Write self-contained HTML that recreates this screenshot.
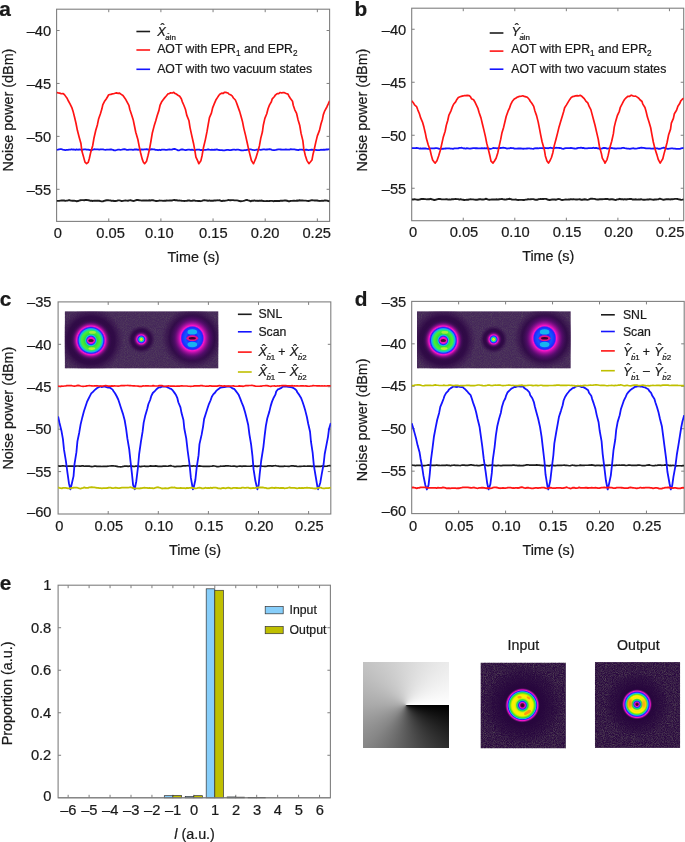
<!DOCTYPE html>
<html lang="en"><head><meta charset="utf-8"><title>Figure: AOT noise power and OAM proportion</title>
<style>html,body{margin:0;padding:0;background:#fff}svg{display:block}.fig{position:relative;width:685px;height:842px;overflow:hidden}.phase{position:absolute;background:conic-gradient(from 90deg at 50% 50%,#000 0,#2d2d2d 12.5%,#5a5a5a 25%,#878787 37.5%,#aaa 50%,#c3c3c3 62.5%,#d7d7d7 75%,#ebebeb 87.5%,#fff 100%)}text{font-family:"Liberation Sans", Arial, Helvetica, sans-serif;fill:#1a1a1a;stroke:#1a1a1a;stroke-width:0.22px}</style>
</head><body><div class="fig">
<svg width="685" height="842" viewBox="0 0 685 842">
<rect width="685" height="842" fill="#fff"/>
<defs>
<filter id="grain" x="0" y="0" width="100%" height="100%" color-interpolation-filters="sRGB"><feTurbulence type="fractalNoise" baseFrequency="1.1" numOctaves="1" seed="7" result="n"/><feColorMatrix in="n" type="matrix" values="0 0 0 0 0.42  0 0 0 0 0.42  0 0 0 0 0.38  1.3 1.3 0 0 -1.05"/></filter>
<filter id="b1"><feGaussianBlur stdDeviation="0.6"/></filter>
<filter id="b2"><feGaussianBlur stdDeviation="1.1"/></filter>
<radialGradient id="gRing1"><stop offset="0" stop-color="#ff14c8"/><stop offset="0.14" stop-color="#ff14c8"/><stop offset="0.2" stop-color="#2424ff"/><stop offset="0.25" stop-color="#12c4e4"/><stop offset="0.3" stop-color="#2cdc3c"/><stop offset="0.44" stop-color="#4cec34"/><stop offset="0.5" stop-color="#1ee088"/><stop offset="0.56" stop-color="#12a8f8"/><stop offset="0.61" stop-color="#2424ff"/><stop offset="0.68" stop-color="#ff14c8"/><stop offset="0.76" stop-color="#a4109c" stop-opacity="0.85"/><stop offset="0.88" stop-color="#54106c" stop-opacity="0.45"/><stop offset="1" stop-color="#3a0a55" stop-opacity="0"/></radialGradient>
<radialGradient id="gSpot"><stop offset="0" stop-color="#f4d418"/><stop offset="0.11" stop-color="#d8f020"/><stop offset="0.2" stop-color="#50e43c"/><stop offset="0.28" stop-color="#12c4e4"/><stop offset="0.4" stop-color="#2424ff"/><stop offset="0.53" stop-color="#ff14c8"/><stop offset="0.71" stop-color="#84108c" stop-opacity="0.75"/><stop offset="1" stop-color="#3a0a55" stop-opacity="0"/></radialGradient>
<radialGradient id="gRing3"><stop offset="0" stop-color="#2424ff"/><stop offset="0.2" stop-color="#2424ff"/><stop offset="0.3" stop-color="#1458ff"/><stop offset="0.4" stop-color="#1440ff"/><stop offset="0.46" stop-color="#2424ff"/><stop offset="0.52" stop-color="#ff14c8"/><stop offset="0.6" stop-color="#c412b4" stop-opacity="0.9"/><stop offset="0.78" stop-color="#74108c" stop-opacity="0.5"/><stop offset="1" stop-color="#4a1568" stop-opacity="0"/></radialGradient>
<radialGradient id="gHalo"><stop offset="0" stop-color="#2a053f"/><stop offset="0.72" stop-color="#2e0845" stop-opacity="0.92"/><stop offset="1" stop-color="#3a1050" stop-opacity="0"/></radialGradient>
<radialGradient id="gIn"><stop offset="0" stop-color="#30042a"/><stop offset="0.09" stop-color="#54063a"/><stop offset="0.16" stop-color="#ff14c8"/><stop offset="0.22" stop-color="#2424ff"/><stop offset="0.27" stop-color="#12c0b0"/><stop offset="0.32" stop-color="#2cdc3c"/><stop offset="0.39" stop-color="#d0f010"/><stop offset="0.47" stop-color="#fff200"/><stop offset="0.6" stop-color="#f4f000"/><stop offset="0.67" stop-color="#84e810"/><stop offset="0.72" stop-color="#2cdc3c"/><stop offset="0.77" stop-color="#12c4e4"/><stop offset="0.81" stop-color="#2424ff"/><stop offset="0.87" stop-color="#ff14c8"/><stop offset="0.93" stop-color="#84108c" stop-opacity="0.8"/><stop offset="1" stop-color="#2a0640" stop-opacity="0"/></radialGradient>
<radialGradient id="gOut"><stop offset="0" stop-color="#30042a"/><stop offset="0.08" stop-color="#60063a"/><stop offset="0.14" stop-color="#ff14c8"/><stop offset="0.2" stop-color="#2424ff"/><stop offset="0.26" stop-color="#12c0b0"/><stop offset="0.32" stop-color="#2cdc3c"/><stop offset="0.39" stop-color="#f0f010"/><stop offset="0.48" stop-color="#ffe408"/><stop offset="0.56" stop-color="#fff000"/><stop offset="0.65" stop-color="#50e420"/><stop offset="0.71" stop-color="#12c4e4"/><stop offset="0.78" stop-color="#2424ff"/><stop offset="0.86" stop-color="#ff14c8"/><stop offset="0.92" stop-color="#84108c" stop-opacity="0.8"/><stop offset="1" stop-color="#2a0640" stop-opacity="0"/></radialGradient>
<radialGradient id="gVig"><stop offset="0" stop-color="#27063d"/><stop offset="0.5" stop-color="#27063d" stop-opacity="0.97"/><stop offset="0.8" stop-color="#27063d" stop-opacity="0.5"/><stop offset="1" stop-color="#27063d" stop-opacity="0"/></radialGradient>
</defs>
<rect x="56.6" y="9.2" width="273" height="212.2" fill="#fff" stroke="#7f7f7f" stroke-width="1.1"/>
<path d="M108.75 221.4 v-3 M108.75 9.2 v3 M160.9 221.4 v-3 M160.9 9.2 v3 M213.05 221.4 v-3 M213.05 9.2 v3 M265.2 221.4 v-3 M265.2 9.2 v3 M317.35 221.4 v-3 M317.35 9.2 v3 " stroke="#7f7f7f" stroke-width="1" fill="none"/>
<path d="M56.6 30.5 h3 M329.6 30.5 h-3 M56.6 83.44 h3 M329.6 83.44 h-3 M56.6 136.37 h3 M329.6 136.37 h-3 M56.6 189.31 h3 M329.6 189.31 h-3 " stroke="#7f7f7f" stroke-width="1" fill="none"/>
<svg x="56.6" y="9.2" width="273" height="212.2" viewBox="56.6 9.2 273 212.2" overflow="hidden">
<path d="M56.6 200.89 L57.85 200.9 L59.1 200.87 L60.36 200.67 L61.61 200.5 L62.86 200.51 L64.11 200.53 L65.37 200.89 L66.62 200.64 L67.87 200.45 L69.12 200.04 L70.38 200.46 L71.63 200.69 L72.88 200.66 L74.13 200.76 L75.38 200.92 L76.64 201.28 L77.89 201.06 L79.14 200.59 L80.39 200.22 L81.65 200.16 L82.9 200.11 L84.15 200.21 L85.4 200.04 L86.66 200.02 L87.91 200.18 L89.16 200.3 L90.41 200.78 L91.66 200.81 L92.92 200.93 L94.17 200.73 L95.42 200.81 L96.67 200.7 L97.93 200.57 L99.18 200.77 L100.43 201.09 L101.68 201.42 L102.93 201.25 L104.19 200.85 L105.44 200.49 L106.69 200.24 L107.94 200.1 L109.2 200.41 L110.45 200.48 L111.7 200.93 L112.95 200.71 L114.21 201.04 L115.46 201.04 L116.71 200.81 L117.96 200.37 L119.21 200.41 L120.47 200.69 L121.72 201.14 L122.97 200.84 L124.22 200.6 L125.48 200.4 L126.73 200.62 L127.98 200.74 L129.23 200.42 L130.49 200.16 L131.74 200.56 L132.99 200.96 L134.24 200.83 L135.49 200.41 L136.75 200.03 L138 199.99 L139.25 200.32 L140.5 200.36 L141.76 200.65 L143.01 200.45 L144.26 200.46 L145.51 200.56 L146.77 200.37 L148.02 200.64 L149.27 200.28 L150.52 200.45 L151.77 200.19 L153.03 200.28 L154.28 200.61 L155.53 200.95 L156.78 200.97 L158.04 200.92 L159.29 200.57 L160.54 200.63 L161.79 200.61 L163.04 200.86 L164.3 200.69 L165.55 200.77 L166.8 200.52 L168.05 200.61 L169.31 200.48 L170.56 200.55 L171.81 200.57 L173.06 200.16 L174.32 200.02 L175.57 200.19 L176.82 200.29 L178.07 200.59 L179.32 200.47 L180.58 200.59 L181.83 200.8 L183.08 200.87 L184.33 200.94 L185.59 200.88 L186.84 200.71 L188.09 200.46 L189.34 200.48 L190.6 200.86 L191.85 200.91 L193.1 200.49 L194.35 200.44 L195.6 200.85 L196.86 200.85 L198.11 200.98 L199.36 200.94 L200.61 201.18 L201.87 200.87 L203.12 200.42 L204.37 200.08 L205.62 200.4 L206.88 200.48 L208.13 200.87 L209.38 200.46 L210.63 200.8 L211.88 200.74 L213.14 200.76 L214.39 200.38 L215.64 200.45 L216.89 200.32 L218.15 200.35 L219.4 200.26 L220.65 200.72 L221.9 200.94 L223.16 200.78 L224.41 200.82 L225.66 200.58 L226.91 200.42 L228.16 200.04 L229.42 200.18 L230.67 200.21 L231.92 200.15 L233.17 200.11 L234.43 200.41 L235.68 200.38 L236.93 200.38 L238.18 200.57 L239.43 201.06 L240.69 201.24 L241.94 201.12 L243.19 200.89 L244.44 200.58 L245.7 200.2 L246.95 199.87 L248.2 200.32 L249.45 200.71 L250.71 201.26 L251.96 200.74 L253.21 200.7 L254.46 200.42 L255.71 200.84 L256.97 200.65 L258.22 200.96 L259.47 200.57 L260.72 200.7 L261.98 200.55 L263.23 201.03 L264.48 201.15 L265.73 201.13 L266.99 201.06 L268.24 201.17 L269.49 200.96 L270.74 200.9 L271.99 200.89 L273.25 201.19 L274.5 201.04 L275.75 200.97 L277 200.97 L278.26 201.06 L279.51 200.96 L280.76 200.68 L282.01 200.69 L283.27 200.68 L284.52 200.5 L285.77 200.53 L287.02 200.76 L288.27 201.23 L289.53 201.28 L290.78 200.92 L292.03 200.84 L293.28 200.75 L294.54 200.78 L295.79 200.84 L297.04 200.55 L298.29 200.73 L299.54 200.26 L300.8 200.56 L302.05 200.41 L303.3 200.52 L304.55 200.58 L305.81 200.59 L307.06 200.82 L308.31 200.95 L309.56 200.8 L310.82 200.45 L312.07 200.09 L313.32 200.33 L314.57 200.45 L315.82 200.37 L317.08 200.5 L318.33 200.77 L319.58 200.93 L320.83 200.92 L322.09 200.73 L323.34 200.86 L324.59 200.45 L325.84 200.51 L327.1 200.6 L328.35 201.02 L329.6 201.28" fill="none" stroke="#1c1c1c" stroke-width="1.9" stroke-linejoin="round"/>
<path d="M56.6 149.88 L57.85 149.69 L59.1 149.31 L60.36 149.14 L61.61 149.22 L62.86 149.69 L64.11 149.87 L65.37 150.06 L66.62 149.92 L67.87 149.9 L69.12 149.63 L70.38 149.56 L71.63 149.27 L72.88 149.71 L74.13 149.49 L75.38 149.88 L76.64 149.39 L77.89 149.76 L79.14 149.47 L80.39 149.67 L81.65 149.76 L82.9 149.57 L84.15 149.37 L85.4 149.41 L86.66 149.7 L87.91 149.72 L89.16 149.76 L90.41 150.02 L91.66 150.03 L92.92 149.7 L94.17 149.22 L95.42 149.34 L96.67 149.46 L97.93 149.47 L99.18 149.7 L100.43 149.36 L101.68 149.37 L102.93 149.44 L104.19 149.64 L105.44 149.79 L106.69 149.66 L107.94 149.7 L109.2 149.68 L110.45 149.35 L111.7 149.5 L112.95 149.84 L114.21 150.4 L115.46 150.36 L116.71 150 L117.96 149.64 L119.21 149.66 L120.47 149.84 L121.72 149.7 L122.97 149.43 L124.22 149.25 L125.48 149.48 L126.73 149.82 L127.98 149.9 L129.23 149.61 L130.49 149.62 L131.74 149.58 L132.99 149.87 L134.24 149.52 L135.49 149.52 L136.75 149.44 L138 149.76 L139.25 149.57 L140.5 149.67 L141.76 149.32 L143.01 149.66 L144.26 149.36 L145.51 149.42 L146.77 149.22 L148.02 149.57 L149.27 149.44 L150.52 149.5 L151.77 149.25 L153.03 149.39 L154.28 149.4 L155.53 149.84 L156.78 149.95 L158.04 150.24 L159.29 149.77 L160.54 150.03 L161.79 149.68 L163.04 149.7 L164.3 149.59 L165.55 149.91 L166.8 149.81 L168.05 149.53 L169.31 149.44 L170.56 149.64 L171.81 149.62 L173.06 149.18 L174.32 149 L175.57 149.22 L176.82 149.79 L178.07 150.36 L179.32 150.29 L180.58 149.72 L181.83 149.33 L183.08 149.49 L184.33 149.97 L185.59 150.15 L186.84 149.83 L188.09 149.65 L189.34 149.55 L190.6 149.79 L191.85 149.63 L193.1 149.91 L194.35 150.06 L195.6 150 L196.86 149.62 L198.11 149.61 L199.36 149.68 L200.61 150.06 L201.87 149.85 L203.12 150.09 L204.37 149.95 L205.62 149.78 L206.88 149.54 L208.13 149.27 L209.38 149.55 L210.63 149.79 L211.88 149.71 L213.14 149.83 L214.39 149.67 L215.64 149.74 L216.89 149.47 L218.15 149.8 L219.4 149.99 L220.65 150.1 L221.9 150.06 L223.16 150.3 L224.41 150.38 L225.66 150.09 L226.91 149.87 L228.16 149.95 L229.42 150.17 L230.67 150.16 L231.92 149.84 L233.17 149.59 L234.43 149.68 L235.68 149.81 L236.93 149.6 L238.18 149.59 L239.43 149.79 L240.69 150.24 L241.94 150.35 L243.19 150.36 L244.44 150.2 L245.7 150.14 L246.95 149.83 L248.2 149.57 L249.45 149.32 L250.71 149.28 L251.96 149.77 L253.21 149.96 L254.46 150.1 L255.71 149.92 L256.97 149.59 L258.22 149.58 L259.47 149.63 L260.72 149.79 L261.98 149.62 L263.23 149.44 L264.48 149.4 L265.73 149.66 L266.99 149.5 L268.24 149.37 L269.49 149.15 L270.74 149.47 L271.99 149.87 L273.25 150.07 L274.5 150.21 L275.75 149.98 L277 149.61 L278.26 149.35 L279.51 149.39 L280.76 149.48 L282.01 149.59 L283.27 149.53 L284.52 149.56 L285.77 149.36 L287.02 149.72 L288.27 149.58 L289.53 149.6 L290.78 149.21 L292.03 149.32 L293.28 149.37 L294.54 149.33 L295.79 149.75 L297.04 149.79 L298.29 150.07 L299.54 149.63 L300.8 149.61 L302.05 149.55 L303.3 149.95 L304.55 149.83 L305.81 149.74 L307.06 149.75 L308.31 150.09 L309.56 149.95 L310.82 149.77 L312.07 149.73 L313.32 149.82 L314.57 149.9 L315.82 149.85 L317.08 150.18 L318.33 150.11 L319.58 150.12 L320.83 149.76 L322.09 149.86 L323.34 149.65 L324.59 149.74 L325.84 149.52 L327.1 149.51 L328.35 149.3 L329.6 149.22" fill="none" stroke="#1414ff" stroke-width="1.8" stroke-linejoin="round"/>
<path d="M56.6 92.53 L58.23 92.89 L59.7 93.17 L61.26 93.74 L62.92 93.6 L64.3 94.44 L65.33 95.88 L66.88 97.97 L68.56 101.27 L70.01 103.85 L71.97 107.9 L73.28 112.11 L74.57 117.21 L75.98 123.26 L77.38 130.33 L79.18 137.2 L80.94 143.56 L81.83 150.73 L83.56 156.86 L84.98 162.12 L86.6 163.67 L88.19 162.39 L89.4 158.24 L90.75 152.14 L92.74 145.48 L93.95 138.24 L95.72 130.55 L97.43 124.7 L98.67 118.67 L100.43 113.72 L101.84 109.09 L102.75 104.97 L104.4 101.59 L106.23 98.98 L107.58 96.72 L108.7 94.76 L110.86 94.43 L112.22 93.92 L113.55 93.72 L115.12 93.24 L116.34 92.93 L118.14 93.32 L119.31 93.06 L121.23 94.36 L122.95 95.55 L123.87 96.82 L125.41 98.97 L127.16 102.21 L128.9 105.38 L129.84 109.56 L131.51 114.54 L133.18 119.69 L134.33 125.28 L135.76 132.28 L137.8 139.18 L139.2 146.29 L140.66 153.04 L142.14 158.88 L143.28 162.02 L144.6 163.67 L146.58 161.16 L148.09 155.28 L149.61 148.69 L150.83 141.74 L152.25 133.3 L154.11 126.11 L155.76 120.75 L157.23 115.49 L158.95 110.36 L160 105.45 L161.51 102.07 L162.96 99.93 L164.6 97.87 L166.24 96.02 L167.89 93.92 L168.77 93.7 L170.66 92.9 L172.31 92.99 L173.8 92.39 L175.04 93.54 L176.26 94.08 L177.96 95.21 L179.68 96.23 L181.32 98.81 L182.37 101.86 L183.96 105.48 L185.49 109.55 L186.74 115.13 L188.98 120.78 L189.98 127.35 L191.55 134.64 L193.48 143.19 L194.83 150.43 L195.92 157.08 L197.95 161.44 L198.8 163.67 L200.86 160.83 L202.15 155.2 L203.55 147.22 L205.38 139.62 L206.94 131.88 L208.24 124.27 L209.46 117.54 L211.4 113.16 L212.73 107.57 L214.44 103.34 L215.85 100.05 L217.25 97.83 L218.92 95.26 L220.05 94.12 L221.69 93.22 L223.3 93.31 L224.55 92.24 L225.8 92.34 L227.86 92.96 L229.13 94.23 L230.56 94.78 L232.13 95.91 L233.43 98.03 L235.37 100.02 L236.43 102.48 L237.9 106.6 L239.7 111.63 L241.09 116.53 L242.45 121.45 L243.77 128.12 L245.55 135.42 L247.03 141.95 L248.64 149.35 L250.22 155.72 L251.42 160.43 L253.5 163.67 L254.25 162 L255.75 158.45 L257.64 152.27 L259.45 145.66 L260.79 138.1 L262.44 131.75 L263.32 125.21 L264.87 118.33 L266.77 113.78 L268.03 108.71 L269.54 104.89 L271.37 101.8 L272.27 98.83 L274.45 96.51 L275.35 95.05 L277.17 93.54 L278.72 93.62 L280.15 92.53 L281.77 93.02 L282.94 92.56 L284.38 92.69 L286.23 93.49 L287.96 94.14 L288.75 95.7 L290.28 98.22 L292.49 101.2 L293.24 105.27 L294.8 109.77 L296.6 113.46 L297.96 119.39 L299.76 125.52 L301.07 133.39 L302.84 140.67 L303.79 148.91 L305.38 155.73 L306.85 160.34 L308.9 163.67 L310.34 162.01 L312 159.91 L313 154.43 L314.38 148.69 L315.76 142.35 L317.35 135.89 L319.49 130.35 L320.96 124.03 L322.44 119.21 L323.34 114.65 L324.76 110.81 L326.99 106.72 L328.28 103.92 L329.6 100.78" fill="none" stroke="#ff1414" stroke-width="1.7" stroke-linejoin="round"/>
</svg>
<text x="51.2" y="35.7" font-size="14.7" text-anchor="end" >–40</text>
<text x="51.2" y="88.64" font-size="14.7" text-anchor="end" >–45</text>
<text x="51.2" y="141.57" font-size="14.7" text-anchor="end" >–50</text>
<text x="51.2" y="194.5" font-size="14.7" text-anchor="end" >–55</text>
<text x="110.6" y="238.2" font-size="14.7" text-anchor="middle" >0.05</text>
<text x="159.3" y="238.2" font-size="14.7" text-anchor="middle" >0.10</text>
<text x="213.3" y="238.2" font-size="14.7" text-anchor="middle" >0.15</text>
<text x="265.1" y="238.2" font-size="14.7" text-anchor="middle" >0.20</text>
<text x="316.7" y="238.2" font-size="14.7" text-anchor="middle" >0.25</text>
<text x="57.9" y="238.2" font-size="14.7" text-anchor="middle" >0</text>
<text x="193.6" y="261.6" font-size="14.35" text-anchor="middle" >Time (s)</text>
<text transform="translate(12.5 110) rotate(-90)" font-size="14.35" text-anchor="middle">Noise power (dBm)</text>
<text x="-0.7" y="15.8" font-size="20.8" text-anchor="start" font-weight="bold" fill="#000" stroke="none">a</text>
<path d="M136.4 31.5 h13.7" stroke="#1c1c1c" stroke-width="1.6"/>
<path d="M136.4 50 h13.7" stroke="#ff1414" stroke-width="1.6"/>
<path d="M136.4 69.3 h13.7" stroke="#1414ff" stroke-width="1.6"/>
<text x="157.3" y="35.8" font-size="12.75" font-style="italic">X</text>
<text x="162.57" y="33.12" font-size="12.112499999999999" text-anchor="middle">ˆ</text>
<text x="165.3" y="39.62" font-size="7.91"><tspan font-style="italic">a</tspan>in</text>
<text x="168.47" y="37.57" font-size="6.72" text-anchor="middle">ˆ</text>
<text x="157.2" y="53" font-size="12.25">AOT with EPR<tspan font-size="8.2" dy="3.3">1</tspan><tspan dy="-3.3"> and EPR</tspan><tspan font-size="8.2" dy="3.3">2</tspan></text>
<text x="157.2" y="73.3" font-size="12.25" text-anchor="start" >AOT with two vacuum states</text>
<rect x="411.7" y="8.2" width="272" height="212.5" fill="#fff" stroke="#7f7f7f" stroke-width="1.1"/>
<path d="M463.25 220.7 v-3 M463.25 8.2 v3 M514.8 220.7 v-3 M514.8 8.2 v3 M566.35 220.7 v-3 M566.35 8.2 v3 M617.9 220.7 v-3 M617.9 8.2 v3 M669.45 220.7 v-3 M669.45 8.2 v3 " stroke="#7f7f7f" stroke-width="1" fill="none"/>
<path d="M411.7 29.25 h3 M683.7 29.25 h-3 M411.7 82.25 h3 M683.7 82.25 h-3 M411.7 135.25 h3 M683.7 135.25 h-3 M411.7 188.25 h3 M683.7 188.25 h-3 " stroke="#7f7f7f" stroke-width="1" fill="none"/>
<svg x="411.7" y="8.2" width="272" height="212.5" viewBox="411.7 8.2 272 212.5" overflow="hidden">
<path d="M411.7 199.37 L412.95 199.56 L414.21 199.28 L415.46 199.37 L416.71 199.57 L417.97 199.74 L419.22 199.57 L420.47 199.24 L421.73 198.94 L422.98 198.86 L424.23 199.06 L425.49 199.1 L426.74 199.35 L427.99 199.14 L429.25 199.24 L430.5 198.8 L431.76 199.25 L433.01 199.54 L434.26 200.03 L435.52 199.81 L436.77 199.39 L438.02 199.07 L439.28 199 L440.53 199.05 L441.78 199.42 L443.04 199.34 L444.29 199.37 L445.54 199.29 L446.8 199.14 L448.05 199.6 L449.3 199.38 L450.56 199.63 L451.81 199.29 L453.06 199.31 L454.32 199.1 L455.57 198.92 L456.82 199.14 L458.08 199.17 L459.33 199.6 L460.58 199.22 L461.84 199.65 L463.09 199.72 L464.35 200.04 L465.6 199.91 L466.85 199.73 L468.11 199.72 L469.36 199.34 L470.61 199.28 L471.87 199.34 L473.12 199.38 L474.37 199.64 L475.63 199.68 L476.88 199.8 L478.13 199.48 L479.39 199.22 L480.64 199.21 L481.89 199.57 L483.15 199.54 L484.4 199.33 L485.65 198.8 L486.91 198.99 L488.16 199.56 L489.41 199.79 L490.67 199.66 L491.92 199.4 L493.17 199.55 L494.43 199.39 L495.68 199.43 L496.94 199.31 L498.19 199.55 L499.44 199.3 L500.7 199.07 L501.95 198.91 L503.2 199.35 L504.46 199.45 L505.71 199.6 L506.96 199.23 L508.22 199.09 L509.47 198.78 L510.72 199.08 L511.98 199.47 L513.23 199.65 L514.48 199.58 L515.74 199.52 L516.99 199.82 L518.24 199.99 L519.5 199.83 L520.75 199.88 L522 199.88 L523.26 199.99 L524.51 199.93 L525.76 199.65 L527.02 199.53 L528.27 199.15 L529.52 199.38 L530.78 199.25 L532.03 199.15 L533.29 199.11 L534.54 199.47 L535.79 199.71 L537.05 199.73 L538.3 199.31 L539.55 199.17 L540.81 198.85 L542.06 199.07 L543.31 199.02 L544.57 198.89 L545.82 198.84 L547.07 199.27 L548.33 199.8 L549.58 200.04 L550.83 199.8 L552.09 199.37 L553.34 199.49 L554.59 199.52 L555.85 199.8 L557.1 199.25 L558.35 199.07 L559.61 199.13 L560.86 199.58 L562.11 199.98 L563.37 199.84 L564.62 199.62 L565.88 199.44 L567.13 199.59 L568.38 199.52 L569.64 199.49 L570.89 199.16 L572.14 199.43 L573.4 199.12 L574.65 199.36 L575.9 199.47 L577.16 199.48 L578.41 199.42 L579.66 199.24 L580.92 199.73 L582.17 199.72 L583.42 199.49 L584.68 199.23 L585.93 199.45 L587.18 199.83 L588.44 199.67 L589.69 199.17 L590.94 198.69 L592.2 198.63 L593.45 198.83 L594.7 198.86 L595.96 199.35 L597.21 199.48 L598.46 199.47 L599.72 199.27 L600.97 199.08 L602.23 199.3 L603.48 199.11 L604.73 199.02 L605.99 198.83 L607.24 198.93 L608.49 199.25 L609.75 199.46 L611 199.27 L612.25 199.27 L613.51 199.46 L614.76 199.88 L616.01 199.93 L617.27 199.42 L618.52 199.24 L619.77 198.81 L621.03 199.26 L622.28 199.09 L623.53 199.47 L624.79 199.17 L626.04 199.47 L627.29 199.24 L628.55 199.12 L629.8 198.94 L631.05 198.93 L632.31 199.44 L633.56 199.38 L634.82 199.5 L636.07 199.29 L637.32 199.67 L638.58 199.44 L639.83 199.47 L641.08 199.21 L642.34 199.58 L643.59 199.8 L644.84 199.68 L646.1 199.66 L647.35 199.4 L648.6 199.55 L649.86 199.17 L651.11 199.34 L652.36 199.59 L653.62 199.76 L654.87 199.47 L656.12 199.48 L657.38 199.33 L658.63 199.19 L659.88 198.65 L661.14 199.07 L662.39 199.47 L663.64 199.69 L664.9 199.57 L666.15 199.14 L667.41 199.25 L668.66 199.15 L669.91 199.44 L671.17 199.29 L672.42 199.27 L673.67 199.1 L674.93 198.9 L676.18 198.92 L677.43 198.93 L678.69 199.31 L679.94 199.54 L681.19 199.82 L682.45 199.67 L683.7 199.33" fill="none" stroke="#1c1c1c" stroke-width="1.9" stroke-linejoin="round"/>
<path d="M411.7 148.07 L412.95 148.09 L414.21 148.12 L415.46 148.17 L416.71 147.97 L417.97 148.06 L419.22 148.51 L420.47 148.27 L421.73 148.63 L422.98 148.29 L424.23 148.51 L425.49 148.49 L426.74 148.71 L427.99 148.9 L429.25 148.77 L430.5 148.39 L431.76 148.37 L433.01 148.3 L434.26 148.45 L435.52 148.05 L436.77 148.2 L438.02 148.36 L439.28 148.8 L440.53 148.75 L441.78 148.98 L443.04 148.76 L444.29 148.71 L445.54 148.51 L446.8 148.33 L448.05 148.48 L449.3 148.3 L450.56 148.61 L451.81 148.61 L453.06 148.81 L454.32 148.43 L455.57 148.36 L456.82 148.37 L458.08 148.39 L459.33 147.94 L460.58 147.86 L461.84 147.77 L463.09 148.28 L464.35 148.27 L465.6 148.55 L466.85 148.25 L468.11 148.34 L469.36 148.57 L470.61 148.51 L471.87 148.35 L473.12 148.15 L474.37 148.14 L475.63 148.27 L476.88 148.25 L478.13 148.33 L479.39 148.38 L480.64 148.37 L481.89 148.16 L483.15 148.35 L484.4 148.25 L485.65 148.45 L486.91 148.11 L488.16 148.44 L489.41 148.75 L490.67 148.81 L491.92 148.5 L493.17 148 L494.43 148.23 L495.68 148.09 L496.94 148.35 L498.19 148.03 L499.44 148.13 L500.7 148.01 L501.95 147.92 L503.2 147.75 L504.46 147.86 L505.71 148.21 L506.96 148.57 L508.22 148.37 L509.47 148.31 L510.72 147.96 L511.98 148.09 L513.23 148.17 L514.48 148.68 L515.74 148.7 L516.99 148.72 L518.24 148.47 L519.5 148.5 L520.75 148.35 L522 148.64 L523.26 148.77 L524.51 148.7 L525.76 148.55 L527.02 148.49 L528.27 148.42 L529.52 148.45 L530.78 148.56 L532.03 148.71 L533.29 148.8 L534.54 148.33 L535.79 148.27 L537.05 148.08 L538.3 148.27 L539.55 148.08 L540.81 148.11 L542.06 148.17 L543.31 148.23 L544.57 147.85 L545.82 148.16 L547.07 148.21 L548.33 148.25 L549.58 147.81 L550.83 147.75 L552.09 148.19 L553.34 148.17 L554.59 148.18 L555.85 147.73 L557.1 147.9 L558.35 147.86 L559.61 148.01 L560.86 148.16 L562.11 148.58 L563.37 148.87 L564.62 148.46 L565.88 148.14 L567.13 148.15 L568.38 148.15 L569.64 148.04 L570.89 147.83 L572.14 148.04 L573.4 148.36 L574.65 148.49 L575.9 148.54 L577.16 148.25 L578.41 147.96 L579.66 147.85 L580.92 147.74 L582.17 147.99 L583.42 147.93 L584.68 148.41 L585.93 148.4 L587.18 148.34 L588.44 148.11 L589.69 148.09 L590.94 148.08 L592.2 148.07 L593.45 147.74 L594.7 148.16 L595.96 147.88 L597.21 148.23 L598.46 148.36 L599.72 148.85 L600.97 148.62 L602.23 148.36 L603.48 147.94 L604.73 148 L605.99 148.2 L607.24 148.6 L608.49 148.4 L609.75 148.12 L611 148.01 L612.25 148.11 L613.51 148.36 L614.76 148.51 L616.01 148.73 L617.27 148.47 L618.52 148.44 L619.77 148.42 L621.03 148.32 L622.28 147.98 L623.53 147.77 L624.79 148.16 L626.04 148.29 L627.29 148.61 L628.55 148.6 L629.8 148.87 L631.05 148.57 L632.31 148.33 L633.56 148.27 L634.82 148.61 L636.07 148.59 L637.32 148.47 L638.58 148.13 L639.83 148 L641.08 147.65 L642.34 147.76 L643.59 147.8 L644.84 148.07 L646.1 148.42 L647.35 148.37 L648.6 148.39 L649.86 148.33 L651.11 148.59 L652.36 148.58 L653.62 148.52 L654.87 148.18 L656.12 148.43 L657.38 148.38 L658.63 148.84 L659.88 148.77 L661.14 148.42 L662.39 147.99 L663.64 147.61 L664.9 147.85 L666.15 148.36 L667.41 148.79 L668.66 148.73 L669.91 148.55 L671.17 148.45 L672.42 148.4 L673.67 148.61 L674.93 148.72 L676.18 148.96 L677.43 148.92 L678.69 148.83 L679.94 148.79 L681.19 148.45 L682.45 148.14 L683.7 147.9" fill="none" stroke="#1414ff" stroke-width="1.8" stroke-linejoin="round"/>
<path d="M411.7 100.77 L413.28 102.69 L414.55 104.93 L416.55 106.55 L417.89 110.06 L419.42 113.72 L420.68 117.94 L422.49 122.08 L423.91 127.08 L425.3 132.96 L426.41 138.59 L428.19 144.74 L430.11 150.04 L431.28 155.12 L432.64 160.06 L434.34 162.35 L435.2 163.11 L436.96 160.72 L438.61 155.96 L440.48 149.65 L441.73 144.08 L443.17 137.6 L445.14 131.28 L446.28 125.37 L447.73 120.47 L448.93 115.04 L450.85 111.12 L452.27 107.18 L453.6 104.23 L455.63 101.93 L456.88 99.48 L458.32 97.44 L460.08 96.71 L461.21 96.44 L463.18 95.93 L464.45 95.49 L465.71 95.68 L467.27 95.31 L469.18 95.57 L470.39 96.62 L471.42 98.64 L473.6 99.8 L474.75 101.73 L476.16 104.58 L477.81 108.03 L479.09 112.51 L480.96 117.9 L482.42 123.93 L483.8 129.6 L485.32 136.18 L486.71 143.14 L488.5 150.05 L490.11 156.82 L490.99 161.15 L493 163.11 L494.46 161.03 L496.1 158.22 L497.75 152.97 L499.08 146.66 L500.73 139.17 L501.98 132.7 L503.65 127.14 L505.06 121.21 L506.17 116.5 L508.05 111.2 L509.48 108.15 L510.91 104.07 L512.18 101.51 L514.24 99.03 L515.64 98.29 L517.12 97.3 L518.19 96.84 L519.63 96.3 L521.15 96.25 L522.81 95.77 L524.28 96.43 L526.11 96.89 L527.33 97.27 L529.31 99.47 L530.06 101.05 L531.84 103.25 L533.72 106.4 L534.93 110.98 L536.57 115.65 L538.21 122.15 L539.54 128.86 L540.67 134.87 L542.08 141.79 L544.33 149.65 L545.38 155.88 L546.96 160.91 L548.5 163.11 L549.64 161.31 L551.46 157.5 L552.84 152.71 L554.19 145.87 L556.11 138.79 L557.61 132.91 L559.06 126.89 L560.74 121.36 L562.35 116.11 L563.76 111.28 L564.64 107.77 L566.5 104.91 L568.12 102.11 L569.8 99.39 L571.03 97.67 L572.46 96.68 L573.83 96.44 L575.28 95.88 L577.27 95.6 L578.12 95.98 L580.2 95.35 L581.89 96.28 L582.66 97.06 L584.26 98.64 L585.85 101.05 L587.78 102.89 L589.28 106.7 L590.86 109.63 L592.12 114.37 L593.55 119.75 L595.03 125.23 L596.59 132.07 L598.23 139.12 L599.38 146.25 L601.37 153.41 L602.3 158.18 L604.44 161.78 L605 163.11 L607.03 159.55 L608.19 155.14 L609.75 148.01 L611.7 141.23 L613.4 133.67 L614.24 127.14 L615.69 121.16 L617.45 115.31 L619.31 111.32 L620.34 107.33 L622.01 104.2 L623.4 101.41 L624.69 99.27 L626.28 97.67 L627.98 96.27 L629.7 96.31 L631.27 95.18 L632.73 95.82 L634.43 96.27 L635.68 96.15 L637.23 97.11 L638.79 98.26 L639.97 99.77 L642.02 101.49 L642.83 104.14 L644.95 107.56 L646.11 111.52 L647.42 117.09 L649.02 121.94 L650.69 127.77 L651.87 134.46 L653.31 142.02 L654.96 148.75 L657.02 155.12 L658.36 159.71 L660.2 163.11 L661.04 161.61 L662.82 158.81 L663.94 154.12 L665.37 148.95 L667.13 142.25 L668.55 135.05 L670.55 129.13 L671.35 123.07 L673.4 118.32 L674.36 113.75 L676.54 110.24 L677.89 106.18 L679.56 103.82 L680.82 100.89 L681.9 99.72 L683.7 98.13" fill="none" stroke="#ff1414" stroke-width="1.7" stroke-linejoin="round"/>
</svg>
<text x="406.3" y="35.45" font-size="14.7" text-anchor="end" >–40</text>
<text x="406.3" y="88.45" font-size="14.7" text-anchor="end" >–45</text>
<text x="406.3" y="141.45" font-size="14.7" text-anchor="end" >–50</text>
<text x="406.3" y="194.45" font-size="14.7" text-anchor="end" >–55</text>
<text x="463.95" y="237" font-size="14.7" text-anchor="middle" >0.05</text>
<text x="515.5" y="237" font-size="14.7" text-anchor="middle" >0.10</text>
<text x="567.05" y="237" font-size="14.7" text-anchor="middle" >0.15</text>
<text x="618.6" y="237" font-size="14.7" text-anchor="middle" >0.20</text>
<text x="670.15" y="237" font-size="14.7" text-anchor="middle" >0.25</text>
<text x="413" y="237" font-size="14.7" text-anchor="middle" >0</text>
<text x="548.2" y="260.9" font-size="14.35" text-anchor="middle" >Time (s)</text>
<text transform="translate(367 110) rotate(-90)" font-size="14.35" text-anchor="middle">Noise power (dBm)</text>
<text x="354.5" y="15.5" font-size="20.8" text-anchor="start" font-weight="bold" fill="#000" stroke="none">b</text>
<path d="M489.7 33 h13.7" stroke="#1c1c1c" stroke-width="1.6"/>
<path d="M489.7 51.1 h13.7" stroke="#ff1414" stroke-width="1.6"/>
<path d="M489.7 69.2 h13.7" stroke="#1414ff" stroke-width="1.6"/>
<text x="511.4" y="35.9" font-size="12.75" font-style="italic">Y</text>
<text x="516.67" y="33.22" font-size="12.112499999999999" text-anchor="middle">ˆ</text>
<text x="519.4" y="39.73" font-size="7.91"><tspan font-style="italic">a</tspan>in</text>
<text x="522.57" y="37.67" font-size="6.72" text-anchor="middle">ˆ</text>
<text x="511.3" y="52.9" font-size="12.25">AOT with EPR<tspan font-size="8.2" dy="3.3">1</tspan><tspan dy="-3.3"> and EPR</tspan><tspan font-size="8.2" dy="3.3">2</tspan></text>
<text x="511.3" y="73.3" font-size="12.25" text-anchor="start" >AOT with two vacuum states</text>
<rect x="58.1" y="301.9" width="272.7" height="212.1" fill="#fff" stroke="#7f7f7f" stroke-width="1.1"/>
<path d="M108.2 514 v-3 M108.2 301.9 v3 M158.3 514 v-3 M158.3 301.9 v3 M208.4 514 v-3 M208.4 301.9 v3 M258.5 514 v-3 M258.5 301.9 v3 M308.6 514 v-3 M308.6 301.9 v3 " stroke="#7f7f7f" stroke-width="1" fill="none"/>
<path d="M58.1 344.32 h3 M330.8 344.32 h-3 M58.1 386.74 h3 M330.8 386.74 h-3 M58.1 429.16 h3 M330.8 429.16 h-3 M58.1 471.58 h3 M330.8 471.58 h-3 " stroke="#7f7f7f" stroke-width="1" fill="none"/>
<svg x="58.1" y="301.9" width="272.7" height="212.1" viewBox="58.1 301.9 272.7 212.1" overflow="hidden">
<path d="M58.1 465.76 L59.35 466.06 L60.6 466.07 L61.85 465.94 L63.1 465.75 L64.35 466.02 L65.61 466.03 L66.86 466.26 L68.11 466.21 L69.36 466.21 L70.61 466.12 L71.86 466.03 L73.11 466.15 L74.36 466.35 L75.61 466.19 L76.86 466.02 L78.11 466 L79.37 466.13 L80.62 466.21 L81.87 465.94 L83.12 465.93 L84.37 466.26 L85.62 466.21 L86.87 466.14 L88.12 465.98 L89.37 466.13 L90.62 466.45 L91.87 466.56 L93.13 466.48 L94.38 466.15 L95.63 466.15 L96.88 466.43 L98.13 466.35 L99.38 466.3 L100.63 466.25 L101.88 466.52 L103.13 466.3 L104.38 466.27 L105.63 466.3 L106.89 466.29 L108.14 466.22 L109.39 466 L110.64 465.93 L111.89 465.8 L113.14 465.85 L114.39 466 L115.64 466.14 L116.89 466.36 L118.14 466.61 L119.39 466.75 L120.65 466.82 L121.9 466.75 L123.15 466.45 L124.4 466.09 L125.65 466.02 L126.9 466.12 L128.15 466.34 L129.4 466.11 L130.65 465.96 L131.9 466.06 L133.16 466.29 L134.41 466.51 L135.66 466.15 L136.91 466.06 L138.16 466.15 L139.41 466.39 L140.66 466.66 L141.91 466.34 L143.16 466.26 L144.41 466.17 L145.66 466.28 L146.92 466.43 L148.17 466.32 L149.42 466.18 L150.67 465.88 L151.92 466.06 L153.17 466.06 L154.42 466.1 L155.67 465.82 L156.92 466.08 L158.17 466.37 L159.42 466.43 L160.68 466.34 L161.93 466.31 L163.18 466.22 L164.43 466.17 L165.68 466.09 L166.93 466.25 L168.18 466.1 L169.43 465.88 L170.68 465.66 L171.93 465.96 L173.18 466.22 L174.44 466.58 L175.69 466.6 L176.94 466.41 L178.19 466.32 L179.44 466.41 L180.69 466.46 L181.94 466.12 L183.19 465.86 L184.44 465.83 L185.69 465.9 L186.94 465.75 L188.2 465.68 L189.45 465.99 L190.7 465.99 L191.95 466.21 L193.2 465.92 L194.45 465.98 L195.7 466.07 L196.95 466.11 L198.2 466.11 L199.45 465.95 L200.7 466.12 L201.96 466.27 L203.21 466.45 L204.46 466.32 L205.71 466.32 L206.96 466.26 L208.21 466.28 L209.46 466.37 L210.71 466.26 L211.96 466.11 L213.21 465.85 L214.46 465.99 L215.72 466.26 L216.97 466.62 L218.22 466.58 L219.47 466.51 L220.72 466.16 L221.97 466.24 L223.22 466.03 L224.47 466.15 L225.72 465.83 L226.97 465.95 L228.22 465.9 L229.48 466.02 L230.73 466.17 L231.98 466.27 L233.23 466.19 L234.48 466.22 L235.73 466.31 L236.98 466.56 L238.23 466.23 L239.48 466.18 L240.73 466.21 L241.98 466.31 L243.24 466.13 L244.49 466.09 L245.74 466.14 L246.99 466.23 L248.24 466.23 L249.49 466.24 L250.74 466.15 L251.99 465.88 L253.24 465.87 L254.49 466.09 L255.74 466.15 L257 466.34 L258.25 466.06 L259.5 466.01 L260.75 465.95 L262 466.13 L263.25 466.24 L264.5 466.38 L265.75 466.29 L267 466.15 L268.25 465.75 L269.51 465.84 L270.76 465.89 L272.01 466.08 L273.26 465.87 L274.51 465.74 L275.76 465.7 L277.01 466.03 L278.26 466.17 L279.51 466.4 L280.76 466.32 L282.01 466.37 L283.27 466.31 L284.52 466.15 L285.77 466.24 L287.02 466.27 L288.27 466.41 L289.52 466.28 L290.77 465.95 L292.02 465.97 L293.27 465.91 L294.52 466.03 L295.77 466.02 L297.03 466.35 L298.28 466.48 L299.53 466.47 L300.78 466.44 L302.03 466.27 L303.28 466.22 L304.53 466.14 L305.78 466.25 L307.03 466.17 L308.28 466.05 L309.53 466.17 L310.79 466.18 L312.04 466.31 L313.29 465.97 L314.54 466.28 L315.79 466.27 L317.04 466.4 L318.29 466.41 L319.54 466.46 L320.79 466.34 L322.04 466.02 L323.29 465.89 L324.55 466.3 L325.8 466.25 L327.05 466.05 L328.3 465.75 L329.55 465.71 L330.8 465.87" fill="none" stroke="#1c1c1c" stroke-width="1.7" stroke-linejoin="round"/>
<path d="M58.1 416.39 L59.53 422.95 L61.43 430.71 L62.94 439.08 L63.97 449.38 L65.91 461.08 L67.51 473.17 L68.92 483.2 L70.4 489.27 L71.28 485.98 L73.55 476.09 L74.48 464.31 L76.42 452.17 L77.42 441.31 L79.25 432.47 L80.62 424.37 L82.36 417.15 L83.93 411.24 L85.49 406.46 L86.99 401.92 L88.53 398.76 L89.84 396.1 L91.27 393.44 L92.98 391.77 L94.36 390.42 L96 388.93 L97.18 388.07 L99.14 387.02 L100.6 386.44 L101.55 387.08 L103.53 386.69 L104.84 386.44 L106.4 387.16 L108.06 387.56 L109.46 387.53 L110.97 388.4 L112.64 389.64 L113.57 391.3 L115.01 393.2 L116.69 396.26 L118.25 399.49 L119.58 403.48 L121.01 408.07 L122.87 413.61 L124.68 420.25 L126.12 428.94 L127.37 438.45 L129.21 449.18 L130.49 461.15 L131.99 474.09 L133.08 484.92 L134.7 489.27 L136.3 481.23 L137.86 468.26 L139.12 454.49 L140.86 442.07 L142.55 431.88 L143.64 422.92 L145.3 415.4 L147.21 409.06 L148.42 404.01 L150.13 400.01 L151.24 396.17 L152.78 393.02 L154.76 391.12 L156.24 389.48 L157.22 388.59 L159.14 387.28 L160.77 387.26 L162.26 386.48 L163.76 386.63 L165.31 386.72 L166.48 386.73 L168.17 387.59 L169.4 388.28 L171.13 388.79 L172.8 390.42 L174.39 392.62 L175.81 394.7 L177.27 397.8 L178.32 402.27 L180.46 407.39 L181.55 413.06 L183.44 420 L184.31 428.51 L186.24 438.38 L187.66 450.73 L189.55 464.5 L190.89 477.9 L192.9 489.27 L193.7 487.44 L195.39 479.73 L196.68 467.61 L198.58 455.14 L199.46 444.08 L201.57 434.88 L203.07 426.61 L204.08 419.12 L205.93 413.21 L207.52 408.23 L208.93 404.04 L210.61 400.25 L211.81 396.74 L213.26 394.39 L215.16 392.51 L216.3 390.83 L217.9 389.41 L219.57 388.28 L220.49 387.5 L222.13 387.36 L223.95 387.04 L225.19 386.98 L227.09 386.57 L228.36 386.38 L230.2 386.76 L231.35 387.58 L232.64 388.43 L234.51 389.2 L235.57 390.58 L237.56 393.21 L238.79 395.1 L240.24 398.64 L241.64 402.43 L243.4 406.62 L245.09 412.22 L246.61 418.31 L248.22 425.01 L249.41 434.37 L251.1 444.4 L252.49 456.46 L253.58 469.41 L255.42 481.02 L257.4 489.27 L258.63 485.34 L259.65 474.54 L261.19 460.74 L263.37 447.04 L264.68 435.34 L265.87 425.89 L267.32 418.27 L269.35 411.62 L270.65 406.12 L272.01 401.63 L273.68 397.7 L275.37 394.66 L276.2 391.55 L277.8 389.45 L279.27 388.86 L281.38 387.95 L282.23 387.03 L283.74 386.46 L285.94 386.48 L286.87 386.55 L288.23 386.78 L290.51 387.04 L291.8 387.28 L293.04 387.85 L294.91 389 L296.47 390.43 L297.28 392.27 L299.24 394.91 L300.94 397.67 L302.52 401.73 L303.93 405.95 L305.35 410.85 L306.9 416.98 L308.22 423.74 L310.05 431.75 L310.94 441.47 L312.68 452.97 L313.87 465.59 L315.95 478.02 L317.47 487.09 L318.1 489.27 L320.29 482.7 L321.78 473.97 L323.63 463.99 L324.7 454.02 L326.37 445.32 L328 436.85 L328.95 429.32 L330.8 423" fill="none" stroke="#1414ff" stroke-width="1.8" stroke-linejoin="round"/>
<path d="M58.1 487.45 L59.35 487.91 L60.6 488.07 L61.85 488.3 L63.1 487.85 L64.35 487.86 L65.61 487.93 L66.86 488.16 L68.11 488.41 L69.36 488.43 L70.61 488.34 L71.86 487.82 L73.11 487.75 L74.36 487.61 L75.61 487.61 L76.86 487.6 L78.11 488 L79.37 488.46 L80.62 488.59 L81.87 488.23 L83.12 487.81 L84.37 487.34 L85.62 487.78 L86.87 487.79 L88.12 487.81 L89.37 487.28 L90.62 487.25 L91.87 487.18 L93.13 487.36 L94.38 487.43 L95.63 487.58 L96.88 487.9 L98.13 487.9 L99.38 488.18 L100.63 488.08 L101.88 488.3 L103.13 488.17 L104.38 488.19 L105.63 488.2 L106.89 488 L108.14 487.76 L109.39 487.57 L110.64 487.66 L111.89 488.03 L113.14 488.13 L114.39 487.95 L115.64 487.66 L116.89 487.88 L118.14 488.09 L119.39 488.21 L120.65 487.81 L121.9 487.59 L123.15 487.57 L124.4 487.55 L125.65 487.68 L126.9 487.53 L128.15 487.61 L129.4 487.46 L130.65 487.25 L131.9 487.67 L133.16 488.04 L134.41 488.56 L135.66 488.31 L136.91 488.45 L138.16 488.4 L139.41 488.48 L140.66 488.24 L141.91 488.04 L143.16 487.82 L144.41 487.74 L145.66 487.86 L146.92 487.84 L148.17 488.1 L149.42 487.98 L150.67 488.21 L151.92 488.2 L153.17 488.27 L154.42 488.01 L155.67 487.69 L156.92 487.33 L158.17 487.27 L159.42 487.66 L160.68 487.99 L161.93 488.52 L163.18 488.42 L164.43 488.27 L165.68 488.27 L166.93 488.35 L168.18 488.43 L169.43 487.93 L170.68 487.6 L171.93 487.43 L173.18 487.59 L174.44 487.46 L175.69 487.77 L176.94 488.11 L178.19 488.18 L179.44 488.22 L180.69 488 L181.94 488.15 L183.19 488.22 L184.44 488.1 L185.69 488.29 L186.94 487.81 L188.2 488.13 L189.45 487.78 L190.7 487.76 L191.95 487.71 L193.2 488.01 L194.45 488.39 L195.7 488.32 L196.95 488.13 L198.2 487.82 L199.45 487.57 L200.7 487.89 L201.96 488.37 L203.21 488.32 L204.46 488.04 L205.71 487.74 L206.96 488.12 L208.21 487.88 L209.46 488.09 L210.71 487.72 L211.96 488.03 L213.21 487.64 L214.46 487.54 L215.72 487.73 L216.97 487.94 L218.22 488.43 L219.47 488.42 L220.72 488.56 L221.97 488.06 L223.22 487.91 L224.47 488.04 L225.72 488.28 L226.97 487.99 L228.22 487.54 L229.48 487.81 L230.73 488.32 L231.98 488.35 L233.23 487.98 L234.48 487.83 L235.73 487.98 L236.98 487.9 L238.23 488.05 L239.48 488.12 L240.73 488.22 L241.98 487.68 L243.24 487.62 L244.49 487.83 L245.74 487.92 L246.99 487.68 L248.24 487.67 L249.49 488.08 L250.74 488.24 L251.99 488.1 L253.24 487.95 L254.49 488.03 L255.74 487.83 L257 487.63 L258.25 487.46 L259.5 487.5 L260.75 487.39 L262 487.5 L263.25 487.51 L264.5 487.93 L265.75 487.89 L267 488.31 L268.25 488.29 L269.51 488.26 L270.76 487.81 L272.01 487.67 L273.26 487.79 L274.51 488 L275.76 487.75 L277.01 487.78 L278.26 487.91 L279.51 488.09 L280.76 487.93 L282.01 488.02 L283.27 487.94 L284.52 488.35 L285.77 488.22 L287.02 488.06 L288.27 487.75 L289.52 487.45 L290.77 487.89 L292.02 487.87 L293.27 487.84 L294.52 487.93 L295.77 488.14 L297.03 488.43 L298.28 488.22 L299.53 487.81 L300.78 488.02 L302.03 487.88 L303.28 488.13 L304.53 487.85 L305.78 487.95 L307.03 487.66 L308.28 487.89 L309.53 487.9 L310.79 488.11 L312.04 488.09 L313.29 488.3 L314.54 488.48 L315.79 488.5 L317.04 488.22 L318.29 487.88 L319.54 487.57 L320.79 487.71 L322.04 488.09 L323.29 488.3 L324.55 488.32 L325.8 488.21 L327.05 488.18 L328.3 488.14 L329.55 487.82 L330.8 487.75" fill="none" stroke="#bfbf00" stroke-width="1.8" stroke-linejoin="round"/>
<path d="M58.1 386.09 L59.35 386.26 L60.6 386.39 L61.85 386.18 L63.1 386.2 L64.35 386 L65.61 385.97 L66.86 385.59 L68.11 385.63 L69.36 385.57 L70.61 385.65 L71.86 385.69 L73.11 385.96 L74.36 386.17 L75.61 385.94 L76.86 385.63 L78.11 385.41 L79.37 385.61 L80.62 385.96 L81.87 386.2 L83.12 386.36 L84.37 386.25 L85.62 386.18 L86.87 385.9 L88.12 385.78 L89.37 385.59 L90.62 385.7 L91.87 385.82 L93.13 385.99 L94.38 385.92 L95.63 385.84 L96.88 385.7 L98.13 385.89 L99.38 385.96 L100.63 386.18 L101.88 386.17 L103.13 386.04 L104.38 385.76 L105.63 385.53 L106.89 385.81 L108.14 386.1 L109.39 386.16 L110.64 386.1 L111.89 385.9 L113.14 386.1 L114.39 385.8 L115.64 385.98 L116.89 386.03 L118.14 386.17 L119.39 386.05 L120.65 385.68 L121.9 385.61 L123.15 385.51 L124.4 385.59 L125.65 385.49 L126.9 385.52 L128.15 385.44 L129.4 385.64 L130.65 385.69 L131.9 385.74 L133.16 385.93 L134.41 385.88 L135.66 386.02 L136.91 386 L138.16 386.19 L139.41 386.38 L140.66 386.26 L141.91 386.31 L143.16 385.91 L144.41 385.97 L145.66 385.73 L146.92 385.84 L148.17 385.86 L149.42 386.04 L150.67 386.05 L151.92 385.87 L153.17 385.66 L154.42 385.93 L155.67 386.04 L156.92 386.03 L158.17 385.85 L159.42 385.61 L160.68 385.61 L161.93 385.6 L163.18 386 L164.43 386.26 L165.68 386.28 L166.93 386.19 L168.18 385.92 L169.43 385.98 L170.68 386.09 L171.93 386.04 L173.18 386.15 L174.44 386.14 L175.69 386.24 L176.94 386.19 L178.19 386.19 L179.44 386.09 L180.69 385.94 L181.94 385.76 L183.19 386.05 L184.44 385.96 L185.69 386.03 L186.94 385.99 L188.2 386.25 L189.45 386.24 L190.7 386.31 L191.95 386.2 L193.2 386.12 L194.45 385.94 L195.7 385.85 L196.95 385.82 L198.2 385.83 L199.45 385.82 L200.7 385.68 L201.96 385.64 L203.21 385.89 L204.46 385.96 L205.71 386.21 L206.96 386.16 L208.21 386.23 L209.46 385.89 L210.71 385.91 L211.96 386.13 L213.21 386.18 L214.46 386.08 L215.72 385.99 L216.97 386.13 L218.22 385.89 L219.47 385.66 L220.72 385.71 L221.97 385.93 L223.22 386.12 L224.47 385.93 L225.72 386.04 L226.97 386.08 L228.22 386.17 L229.48 386.16 L230.73 385.95 L231.98 385.98 L233.23 385.83 L234.48 386.12 L235.73 386.3 L236.98 386.22 L238.23 386.14 L239.48 385.86 L240.73 386.09 L241.98 386.14 L243.24 386.31 L244.49 385.94 L245.74 385.68 L246.99 385.46 L248.24 385.66 L249.49 385.55 L250.74 385.5 L251.99 385.32 L253.24 385.68 L254.49 385.92 L255.74 386.26 L257 386.29 L258.25 386.28 L259.5 386.27 L260.75 386.05 L262 386.06 L263.25 385.76 L264.5 385.77 L265.75 385.54 L267 385.67 L268.25 385.9 L269.51 386.29 L270.76 386.42 L272.01 386.02 L273.26 386.02 L274.51 385.92 L275.76 386.2 L277.01 385.94 L278.26 386.05 L279.51 385.89 L280.76 385.76 L282.01 385.62 L283.27 385.56 L284.52 385.61 L285.77 385.5 L287.02 385.73 L288.27 385.93 L289.52 385.94 L290.77 385.93 L292.02 385.64 L293.27 385.96 L294.52 385.76 L295.77 385.98 L297.03 385.72 L298.28 386 L299.53 385.96 L300.78 385.87 L302.03 385.88 L303.28 385.94 L304.53 385.98 L305.78 385.92 L307.03 386.06 L308.28 386.27 L309.53 386.3 L310.79 386.06 L312.04 385.84 L313.29 385.51 L314.54 385.75 L315.79 385.75 L317.04 385.89 L318.29 385.85 L319.54 385.8 L320.79 386.04 L322.04 385.94 L323.29 385.96 L324.55 385.91 L325.8 385.96 L327.05 385.91 L328.3 385.77 L329.55 385.79 L330.8 385.88" fill="none" stroke="#ff1414" stroke-width="1.65" stroke-linejoin="round"/>
</svg>
<text x="51.5" y="307.1" font-size="14.7" text-anchor="end" >–35</text>
<text x="51.5" y="349.52" font-size="14.7" text-anchor="end" >–40</text>
<text x="51.5" y="391.94" font-size="14.7" text-anchor="end" >–45</text>
<text x="51.5" y="434.36" font-size="14.7" text-anchor="end" >–50</text>
<text x="51.5" y="476.78" font-size="14.7" text-anchor="end" >–55</text>
<text x="51.5" y="516.8" font-size="14.7" text-anchor="end" >–60</text>
<text x="108.9" y="530.9" font-size="14.7" text-anchor="middle" >0.05</text>
<text x="159" y="530.9" font-size="14.7" text-anchor="middle" >0.10</text>
<text x="209.1" y="530.9" font-size="14.7" text-anchor="middle" >0.15</text>
<text x="259.2" y="530.9" font-size="14.7" text-anchor="middle" >0.20</text>
<text x="309.3" y="530.9" font-size="14.7" text-anchor="middle" >0.25</text>
<text x="59.4" y="530.9" font-size="14.7" text-anchor="middle" >0</text>
<text x="194.95" y="554.5" font-size="14.35" text-anchor="middle" >Time (s)</text>
<text transform="translate(12.5 408.2) rotate(-90)" font-size="14.35" text-anchor="middle">Noise power (dBm)</text>
<text x="-0.3" y="306.2" font-size="20.8" text-anchor="start" font-weight="bold" fill="#000" stroke="none">c</text>
<svg x="64.7" y="311.2" width="153.8" height="57.4" viewBox="0 0 153.8 57.4" overflow="hidden">
<rect width="153.8" height="57.4" fill="#45275a"/>
<rect width="153.8" height="57.4" filter="url(#grain)" opacity="0.45"/>
<circle cx="26.3" cy="29.2" r="33" fill="url(#gHalo)"/>
<circle cx="76.6" cy="28.2" r="14" fill="url(#gHalo)"/>
<circle cx="127.6" cy="27" r="31" fill="url(#gHalo)"/>
<circle cx="26.3" cy="29.2" r="21" fill="url(#gRing1)"/>
<g filter="url(#b1)"><ellipse cx="27.8" cy="21.2" rx="3.4" ry="1.3" fill="#b8f23c" opacity="0.8"/><ellipse cx="27.1" cy="37.4" rx="3.4" ry="1.3" fill="#c8f230" opacity="0.85"/><ellipse cx="26.3" cy="29.2" rx="4.0" ry="2.7" fill="#f414b8"/><ellipse cx="26.3" cy="29.2" rx="2.7" ry="1.5" fill="#4a0836"/></g>
<circle cx="76.6" cy="28.2" r="8.5" fill="url(#gSpot)"/>
<ellipse cx="127.6" cy="27" rx="22.8" ry="24" fill="url(#gRing3)"/>
<g filter="url(#b1)"><ellipse cx="127.6" cy="20.7" rx="4.8" ry="2.7" fill="#18b4f0"/><ellipse cx="127.6" cy="33.3" rx="4.8" ry="2.7" fill="#18b4f0"/><ellipse cx="127.6" cy="27" rx="5.9" ry="2.9" fill="#e8128e"/><ellipse cx="127.6" cy="27" rx="3.6" ry="1.3" fill="#3c0630"/></g>
</svg>
<path d="M237.9 314.3 h13.8" stroke="#1c1c1c" stroke-width="1.6"/>
<path d="M237.9 331.8 h13.8" stroke="#1414ff" stroke-width="1.6"/>
<path d="M237.9 352.1 h13.8" stroke="#ff1414" stroke-width="1.6"/>
<path d="M237.9 372 h13.8" stroke="#bfbf00" stroke-width="1.6"/>
<text x="258.4" y="318.3" font-size="12.25" text-anchor="start" >SNL</text>
<text x="258.4" y="335.9" font-size="12.25" text-anchor="start" >Scan</text>
<text x="258.4" y="356.3" font-size="12.75" font-style="italic">X</text>
<text x="263.67" y="353.62" font-size="12.112499999999999" text-anchor="middle">ˆ</text>
<text x="266.4" y="360.12" font-size="7.91"><tspan font-style="italic">b</tspan>1</text>
<text x="269.57" y="358.07" font-size="6.72" text-anchor="middle">ˆ</text>
<text x="281.8" y="356" font-size="12.25" text-anchor="middle" >+</text>
<text x="289.8" y="356.3" font-size="12.75" font-style="italic">X</text>
<text x="295.07" y="353.62" font-size="12.112499999999999" text-anchor="middle">ˆ</text>
<text x="297.8" y="360.12" font-size="7.91"><tspan font-style="italic">b</tspan>2</text>
<text x="300.97" y="358.07" font-size="6.72" text-anchor="middle">ˆ</text>
<text x="258.4" y="376.2" font-size="12.75" font-style="italic">X</text>
<text x="263.67" y="373.52" font-size="12.112499999999999" text-anchor="middle">ˆ</text>
<text x="266.4" y="380.02" font-size="7.91"><tspan font-style="italic">b</tspan>1</text>
<text x="269.57" y="377.97" font-size="6.72" text-anchor="middle">ˆ</text>
<text x="281.8" y="375.9" font-size="12.25" text-anchor="middle" >–</text>
<text x="289.8" y="376.2" font-size="12.75" font-style="italic">X</text>
<text x="295.07" y="373.52" font-size="12.112499999999999" text-anchor="middle">ˆ</text>
<text x="297.8" y="380.02" font-size="7.91"><tspan font-style="italic">b</tspan>2</text>
<text x="300.97" y="377.97" font-size="6.72" text-anchor="middle">ˆ</text>
<rect x="411.7" y="301.4" width="272.5" height="212.2" fill="#fff" stroke="#7f7f7f" stroke-width="1.1"/>
<path d="M458.65 513.6 v-3 M458.65 301.4 v3 M505.6 513.6 v-3 M505.6 301.4 v3 M552.55 513.6 v-3 M552.55 301.4 v3 M599.5 513.6 v-3 M599.5 301.4 v3 M646.45 513.6 v-3 M646.45 301.4 v3 " stroke="#7f7f7f" stroke-width="1" fill="none"/>
<path d="M411.7 343.84 h3 M684.2 343.84 h-3 M411.7 386.28 h3 M684.2 386.28 h-3 M411.7 428.72 h3 M684.2 428.72 h-3 M411.7 471.16 h3 M684.2 471.16 h-3 " stroke="#7f7f7f" stroke-width="1" fill="none"/>
<svg x="411.7" y="301.4" width="272.5" height="212.2" viewBox="411.7 301.4 272.5 212.2" overflow="hidden">
<path d="M411.7 464.99 L412.95 465.22 L414.2 465.37 L415.45 465.6 L416.7 465.44 L417.95 465.36 L419.2 465.38 L420.45 465.39 L421.7 465.56 L422.95 465.53 L424.2 465.65 L425.45 465.5 L426.7 465.27 L427.95 464.97 L429.2 465.1 L430.45 465.1 L431.7 465.32 L432.95 465.28 L434.2 465.23 L435.45 465.29 L436.7 465.03 L437.95 465.38 L439.2 465.41 L440.45 465.49 L441.7 465.43 L442.95 465.38 L444.2 465.34 L445.45 465.32 L446.7 465.05 L447.95 465.39 L449.2 465.4 L450.45 465.78 L451.7 465.4 L452.95 465.24 L454.2 465.08 L455.45 465.32 L456.7 465.26 L457.95 465.38 L459.2 465.49 L460.45 465.54 L461.7 465.21 L462.95 465.13 L464.2 465.18 L465.45 465.41 L466.7 465.33 L467.95 465.33 L469.2 465.04 L470.45 464.89 L471.7 464.91 L472.95 465.22 L474.2 465.35 L475.45 465.48 L476.7 465.4 L477.95 465.6 L479.2 465.56 L480.45 465.46 L481.7 465.13 L482.95 464.87 L484.2 464.75 L485.45 465.07 L486.7 465.43 L487.95 465.74 L489.2 465.41 L490.45 465.31 L491.7 465.04 L492.95 465.38 L494.2 465.38 L495.45 465.65 L496.7 465.53 L497.95 465.43 L499.2 465.47 L500.45 465.62 L501.7 465.55 L502.95 465.37 L504.2 465.26 L505.45 465.46 L506.7 465.45 L507.95 465.32 L509.2 465.45 L510.45 465.39 L511.7 465.28 L512.95 465.16 L514.2 465.16 L515.45 465.46 L516.7 465.3 L517.95 465.59 L519.2 465.36 L520.45 465.61 L521.7 465.53 L522.95 465.69 L524.2 465.39 L525.45 465.13 L526.7 464.82 L527.95 464.81 L529.2 465.03 L530.45 465.04 L531.7 465.07 L532.95 465.03 L534.2 465.07 L535.45 465.11 L536.7 464.96 L537.95 465.19 L539.2 465.09 L540.45 465.43 L541.7 465.4 L542.95 465.66 L544.2 465.46 L545.45 465.42 L546.7 465.53 L547.95 465.68 L549.2 465.83 L550.45 465.41 L551.7 465.28 L552.95 465.33 L554.2 465.6 L555.45 465.56 L556.7 465.44 L557.95 465.23 L559.2 465.33 L560.45 465.39 L561.7 465.34 L562.95 465.24 L564.2 465.16 L565.45 465.28 L566.7 465.36 L567.95 465.5 L569.2 465.75 L570.45 465.58 L571.7 465.24 L572.95 465.22 L574.2 465.36 L575.45 465.65 L576.7 465.66 L577.95 465.51 L579.2 465.41 L580.45 465.16 L581.7 465.39 L582.95 465.43 L584.2 465.4 L585.45 465.27 L586.7 465.23 L587.95 465.23 L589.2 465.09 L590.45 465.03 L591.7 464.96 L592.95 465.1 L594.2 465.31 L595.45 465.64 L596.7 465.44 L597.95 465.39 L599.2 465.35 L600.45 465.63 L601.7 465.28 L602.95 465.3 L604.2 465.08 L605.45 465.42 L606.7 465.22 L607.95 465.3 L609.2 465.02 L610.45 465.26 L611.7 465.2 L612.95 465.51 L614.2 465.35 L615.45 465.32 L616.7 465.22 L617.95 465.23 L619.2 465.18 L620.45 465.25 L621.7 465.14 L622.95 465.14 L624.2 465.11 L625.45 465.31 L626.7 465.47 L627.95 465.21 L629.2 465.13 L630.45 465.22 L631.7 465.44 L632.95 465.42 L634.2 465.41 L635.45 465.43 L636.7 465.29 L637.95 465.12 L639.2 465.02 L640.45 465.27 L641.7 465.54 L642.95 465.7 L644.2 465.57 L645.45 465.53 L646.7 465.2 L647.95 465.18 L649.2 464.89 L650.45 465.21 L651.7 465.48 L652.95 465.75 L654.2 465.71 L655.45 465.43 L656.7 465.49 L657.95 465.19 L659.2 465.19 L660.45 465 L661.7 465.34 L662.95 465.25 L664.2 465.17 L665.45 464.83 L666.7 465.12 L667.95 465.19 L669.2 465.55 L670.45 465.32 L671.7 465.55 L672.95 465.23 L674.2 465.49 L675.45 465.55 L676.7 465.86 L677.95 465.76 L679.2 465.73 L680.45 465.74 L681.7 465.86 L682.95 465.59 L684.2 465.56" fill="none" stroke="#1c1c1c" stroke-width="1.7" stroke-linejoin="round"/>
<path d="M411.7 423.23 L413.35 428.55 L414.7 433.38 L416.21 439.07 L417.6 445.35 L419.49 451.95 L420.54 458.48 L421.92 465.57 L423.48 475.93 L425.3 484.96 L426.9 489.45 L428.56 485.18 L429.8 473.63 L430.9 460.42 L432.58 447.71 L433.96 436.46 L435.64 427.67 L437.16 419.96 L439.12 412.91 L440.29 406.93 L442.07 402.55 L443.56 398.78 L444.52 395.83 L446.03 393.17 L448.19 390.99 L448.94 389.45 L450.8 388.12 L452.59 386.96 L453.65 386.36 L455.57 386.9 L457.17 386.98 L458.64 386.46 L459.71 386.92 L461.2 387.03 L462.77 387.05 L464.02 388.39 L465.52 389.52 L467.19 391.3 L468.66 393.18 L470.61 395.11 L471.79 398.53 L473.07 402.63 L474.77 407.34 L476.14 412.31 L477.56 418.79 L479.53 426.66 L480.75 435.28 L482.27 446.33 L483.72 458.64 L485.56 471.13 L487.21 483.31 L488.6 489.45 L490.34 484.31 L491.83 472.92 L492.79 459.89 L494.6 447.06 L495.84 435.61 L497.22 426.52 L499.01 419.04 L500.87 412.68 L501.91 406.98 L503.55 401.69 L505.26 398.5 L506.21 395.32 L507.66 392.24 L509.86 390.14 L511.37 388.61 L512.67 388.02 L514.32 386.99 L515.89 386.98 L517.26 386.33 L518.96 386.45 L520.36 386.51 L521.99 386.27 L523.37 386.49 L524.24 387.96 L526.1 389.32 L527.29 390.02 L529.31 392.24 L530.27 395.14 L532.33 398.25 L533.86 402.05 L534.79 406.23 L536.32 412.05 L538.18 418.73 L540.04 427.15 L541.56 436.7 L542.9 448.13 L544.43 461.27 L545.55 474.72 L547.42 486.21 L548.3 489.45 L550.26 480.78 L551.68 468.76 L553.36 455.25 L554.34 443.35 L556.09 433 L557.72 423.91 L559 416.7 L560.92 410.86 L562.64 405.21 L563.56 400.71 L565.08 396.97 L566.91 393.99 L568.34 392.22 L569.69 390.46 L571.28 389.27 L572.62 388.08 L574.47 387.59 L575.42 386.63 L577.55 386.2 L578.6 386.19 L580.25 386.39 L581.78 387.18 L583.39 387.13 L584.7 387.88 L586.09 388.75 L588.16 390.21 L588.96 392.81 L591.24 395.76 L592.18 399.11 L593.77 403.66 L595.43 408.86 L596.72 415.11 L598.58 422.24 L599.67 430.75 L601.57 441.14 L602.69 454.11 L604.37 467.68 L605.95 480.79 L607.7 489.45 L608.67 485.65 L610.79 475.6 L612.26 462.66 L613.46 450.47 L615.31 439.27 L616.18 430.08 L617.62 422.13 L619.68 415.23 L620.87 409.32 L622.42 404.8 L623.69 400.94 L625.56 397.12 L626.91 394.01 L628.59 391.89 L629.85 390.53 L631.9 388.88 L633.35 388.06 L634.67 386.95 L635.67 386.9 L637.41 386.35 L639.1 386.18 L640.36 386.67 L641.99 386.68 L643.52 387.03 L644.85 387.27 L646.42 388.31 L648.31 389.25 L649.21 390.85 L651.12 392.89 L652.33 395.83 L654.44 398.94 L655.43 402.5 L657.04 407.26 L658.58 412.57 L660.02 419.06 L661.93 426.55 L663.12 435.55 L664.44 445.79 L666.09 458.45 L667.37 471.52 L669.53 483.52 L670.8 489.45 L672.2 485.63 L673.47 476.6 L675.39 466.12 L676.78 455.02 L678.47 444.94 L679.9 435.97 L681.22 427.5 L682.48 421.15 L684.2 415.13" fill="none" stroke="#1414ff" stroke-width="1.8" stroke-linejoin="round"/>
<path d="M411.7 487.57 L412.95 487.34 L414.2 487.73 L415.45 487.96 L416.7 488.33 L417.95 487.97 L419.2 487.83 L420.45 487.35 L421.7 487.42 L422.95 487.47 L424.2 487.46 L425.45 487.45 L426.7 487.53 L427.95 487.82 L429.2 487.83 L430.45 487.8 L431.7 487.95 L432.95 487.83 L434.2 487.95 L435.45 487.89 L436.7 488.07 L437.95 487.71 L439.2 487.86 L440.45 487.85 L441.7 487.82 L442.95 487.34 L444.2 487.62 L445.45 487.91 L446.7 488.3 L447.95 488.24 L449.2 488.2 L450.45 488.29 L451.7 488.1 L452.95 488.11 L454.2 488.03 L455.45 488.16 L456.7 488.33 L457.95 488.19 L459.2 488.24 L460.45 487.79 L461.7 487.59 L462.95 487.36 L464.2 487.38 L465.45 487.38 L466.7 487.28 L467.95 487.39 L469.2 487.61 L470.45 487.76 L471.7 487.81 L472.95 487.57 L474.2 487.52 L475.45 487.83 L476.7 488.08 L477.95 488.27 L479.2 487.84 L480.45 487.89 L481.7 487.64 L482.95 487.75 L484.2 487.9 L485.45 488.17 L486.7 488.26 L487.95 488.09 L489.2 488.21 L490.45 488.33 L491.7 488.08 L492.95 487.62 L494.2 487.37 L495.45 487.39 L496.7 487.49 L497.95 487.84 L499.2 488.18 L500.45 488.23 L501.7 488.07 L502.95 487.81 L504.2 488.14 L505.45 488.03 L506.7 487.96 L507.95 487.59 L509.2 487.64 L510.45 487.64 L511.7 487.83 L512.95 488.02 L514.2 488.09 L515.45 487.89 L516.7 487.95 L517.95 488.01 L519.2 487.94 L520.45 487.41 L521.7 487.18 L522.95 487.48 L524.2 487.9 L525.45 488.07 L526.7 487.76 L527.95 487.53 L529.2 487.85 L530.45 488.11 L531.7 488.44 L532.95 488.36 L534.2 488.07 L535.45 487.93 L536.7 487.83 L537.95 488.13 L539.2 487.87 L540.45 487.85 L541.7 487.61 L542.95 487.71 L544.2 487.6 L545.45 488.07 L546.7 488.32 L547.95 488.21 L549.2 487.96 L550.45 487.57 L551.7 487.93 L552.95 488.14 L554.2 488.21 L555.45 488.05 L556.7 487.91 L557.95 487.83 L559.2 487.89 L560.45 487.86 L561.7 488.2 L562.95 488.08 L564.2 487.78 L565.45 487.52 L566.7 487.24 L567.95 487.75 L569.2 488.06 L570.45 488.52 L571.7 488.17 L572.95 487.71 L574.2 487.74 L575.45 488.09 L576.7 488.11 L577.95 487.89 L579.2 487.4 L580.45 487.78 L581.7 487.93 L582.95 487.97 L584.2 487.81 L585.45 487.69 L586.7 487.76 L587.95 487.99 L589.2 487.92 L590.45 487.89 L591.7 487.7 L592.95 487.87 L594.2 487.86 L595.45 487.74 L596.7 487.89 L597.95 488.14 L599.2 488.21 L600.45 487.94 L601.7 487.65 L602.95 487.53 L604.2 487.43 L605.45 487.69 L606.7 487.69 L607.95 487.62 L609.2 487.34 L610.45 487.56 L611.7 487.56 L612.95 488.03 L614.2 488.16 L615.45 488.07 L616.7 487.7 L617.95 487.59 L619.2 487.67 L620.45 487.61 L621.7 487.76 L622.95 487.96 L624.2 488.15 L625.45 488.06 L626.7 488.2 L627.95 488.04 L629.2 487.66 L630.45 487.45 L631.7 487.58 L632.95 487.78 L634.2 487.95 L635.45 488.09 L636.7 488.38 L637.95 488.02 L639.2 487.87 L640.45 487.51 L641.7 487.94 L642.95 487.85 L644.2 487.77 L645.45 487.54 L646.7 487.64 L647.95 487.69 L649.2 487.57 L650.45 487.85 L651.7 487.95 L652.95 488.29 L654.2 488.08 L655.45 487.86 L656.7 487.94 L657.95 488.1 L659.2 488.61 L660.45 488.57 L661.7 488.57 L662.95 488.13 L664.2 487.88 L665.45 487.53 L666.7 487.66 L667.95 487.42 L669.2 487.51 L670.45 487.84 L671.7 487.95 L672.95 488.18 L674.2 487.88 L675.45 487.97 L676.7 488.07 L677.95 488.37 L679.2 488.44 L680.45 488.31 L681.7 487.84 L682.95 487.7 L684.2 487.84" fill="none" stroke="#ff1414" stroke-width="1.8" stroke-linejoin="round"/>
<path d="M411.7 385.57 L412.95 385.47 L414.2 385.33 L415.45 384.96 L416.7 384.93 L417.95 384.84 L419.2 384.9 L420.45 385.07 L421.7 385.5 L422.95 385.74 L424.2 385.68 L425.45 385.42 L426.7 385.42 L427.95 385.4 L429.2 385.25 L430.45 385.32 L431.7 385.45 L432.95 385.46 L434.2 385.12 L435.45 384.89 L436.7 385.27 L437.95 385.28 L439.2 385.52 L440.45 385.52 L441.7 385.49 L442.95 385.38 L444.2 385.17 L445.45 385.55 L446.7 385.47 L447.95 385.37 L449.2 385.08 L450.45 385.02 L451.7 385.2 L452.95 385.45 L454.2 385.62 L455.45 385.34 L456.7 385.29 L457.95 385.43 L459.2 385.7 L460.45 385.53 L461.7 385.57 L462.95 385.56 L464.2 385.67 L465.45 385.55 L466.7 385.37 L467.95 385.31 L469.2 385.42 L470.45 385.62 L471.7 385.57 L472.95 385.58 L474.2 385.65 L475.45 385.52 L476.7 385.23 L477.95 384.96 L479.2 384.95 L480.45 385.21 L481.7 385.39 L482.95 385.63 L484.2 385.73 L485.45 385.6 L486.7 385.45 L487.95 385.06 L489.2 385.06 L490.45 385.34 L491.7 385.56 L492.95 385.43 L494.2 385.25 L495.45 385.01 L496.7 385.26 L497.95 385.12 L499.2 385.18 L500.45 385.19 L501.7 385.5 L502.95 385.69 L504.2 385.54 L505.45 385.46 L506.7 385.3 L507.95 385.18 L509.2 385.01 L510.45 385.2 L511.7 385.47 L512.95 385.43 L514.2 385.5 L515.45 385.59 L516.7 385.63 L517.95 385.68 L519.2 385.43 L520.45 385.34 L521.7 385.14 L522.95 385.41 L524.2 385.64 L525.45 385.66 L526.7 385.49 L527.95 385.35 L529.2 385.24 L530.45 385.21 L531.7 385.32 L532.95 385.6 L534.2 385.46 L535.45 385.33 L536.7 385.33 L537.95 385.59 L539.2 385.51 L540.45 385.29 L541.7 385.28 L542.95 385.65 L544.2 385.5 L545.45 385.61 L546.7 385.54 L547.95 385.63 L549.2 385.47 L550.45 385.49 L551.7 385.48 L552.95 385.55 L554.2 385.43 L555.45 385.36 L556.7 385.17 L557.95 385.1 L559.2 385.13 L560.45 385.43 L561.7 385.36 L562.95 385.4 L564.2 385.25 L565.45 385.37 L566.7 385.41 L567.95 385.29 L569.2 385.27 L570.45 385.53 L571.7 385.42 L572.95 385.61 L574.2 385.62 L575.45 385.89 L576.7 385.84 L577.95 385.59 L579.2 385.72 L580.45 385.69 L581.7 385.82 L582.95 385.6 L584.2 385.37 L585.45 385.37 L586.7 385.5 L587.95 385.4 L589.2 385.23 L590.45 385.15 L591.7 385.24 L592.95 385.16 L594.2 385 L595.45 384.92 L596.7 384.91 L597.95 385 L599.2 385.22 L600.45 385.44 L601.7 385.41 L602.95 385.24 L604.2 385.37 L605.45 385.51 L606.7 385.75 L607.95 385.65 L609.2 385.51 L610.45 385.48 L611.7 385.31 L612.95 385.46 L614.2 385.56 L615.45 385.43 L616.7 385.49 L617.95 385.18 L619.2 385.18 L620.45 384.86 L621.7 385.06 L622.95 385.43 L624.2 385.8 L625.45 385.63 L626.7 385.44 L627.95 385.44 L629.2 385.76 L630.45 385.94 L631.7 385.63 L632.95 385.36 L634.2 385.07 L635.45 385.07 L636.7 385.13 L637.95 385.42 L639.2 385.59 L640.45 385.49 L641.7 385.22 L642.95 385.12 L644.2 385.44 L645.45 385.57 L646.7 385.72 L647.95 385.63 L649.2 385.81 L650.45 385.68 L651.7 385.54 L652.95 385.36 L654.2 385.49 L655.45 385.45 L656.7 385.33 L657.95 385.35 L659.2 385.44 L660.45 385.63 L661.7 385.34 L662.95 385.15 L664.2 384.97 L665.45 385.08 L666.7 385.07 L667.95 385.09 L669.2 385.32 L670.45 385.5 L671.7 385.38 L672.95 385.32 L674.2 385.26 L675.45 385.33 L676.7 385.26 L677.95 385.42 L679.2 385.49 L680.45 385.52 L681.7 385.61 L682.95 385.62 L684.2 385.52" fill="none" stroke="#bfbf00" stroke-width="1.65" stroke-linejoin="round"/>
</svg>
<text x="406.3" y="306.6" font-size="14.7" text-anchor="end" >–35</text>
<text x="406.3" y="349.04" font-size="14.7" text-anchor="end" >–40</text>
<text x="406.3" y="391.48" font-size="14.7" text-anchor="end" >–45</text>
<text x="406.3" y="433.92" font-size="14.7" text-anchor="end" >–50</text>
<text x="406.3" y="476.36" font-size="14.7" text-anchor="end" >–55</text>
<text x="406.3" y="516.4" font-size="14.7" text-anchor="end" >–60</text>
<text x="459.35" y="530.9" font-size="14.7" text-anchor="middle" >0.05</text>
<text x="506.3" y="530.9" font-size="14.7" text-anchor="middle" >0.10</text>
<text x="553.25" y="530.9" font-size="14.7" text-anchor="middle" >0.15</text>
<text x="600.2" y="530.9" font-size="14.7" text-anchor="middle" >0.20</text>
<text x="647.15" y="530.9" font-size="14.7" text-anchor="middle" >0.25</text>
<text x="413" y="530.9" font-size="14.7" text-anchor="middle" >0</text>
<text x="548.45" y="554.5" font-size="14.35" text-anchor="middle" >Time (s)</text>
<text transform="translate(367 419.8) rotate(-90)" font-size="14.35" text-anchor="middle">Noise power (dBm)</text>
<text x="354.85" y="306" font-size="20.8" text-anchor="start" font-weight="bold" fill="#000" stroke="none">d</text>
<svg x="417" y="311.2" width="153.8" height="57.4" viewBox="0 0 153.8 57.4" overflow="hidden">
<rect width="153.8" height="57.4" fill="#45275a"/>
<rect width="153.8" height="57.4" filter="url(#grain)" opacity="0.45"/>
<circle cx="26.3" cy="29.2" r="33" fill="url(#gHalo)"/>
<circle cx="76.6" cy="28.2" r="14" fill="url(#gHalo)"/>
<circle cx="127.6" cy="27" r="31" fill="url(#gHalo)"/>
<circle cx="26.3" cy="29.2" r="21" fill="url(#gRing1)"/>
<g filter="url(#b1)"><ellipse cx="27.8" cy="21.2" rx="3.4" ry="1.3" fill="#b8f23c" opacity="0.8"/><ellipse cx="27.1" cy="37.4" rx="3.4" ry="1.3" fill="#c8f230" opacity="0.85"/><ellipse cx="26.3" cy="29.2" rx="4.0" ry="2.7" fill="#f414b8"/><ellipse cx="26.3" cy="29.2" rx="2.7" ry="1.5" fill="#4a0836"/></g>
<circle cx="76.6" cy="28.2" r="8.5" fill="url(#gSpot)"/>
<ellipse cx="127.6" cy="27" rx="22.8" ry="24" fill="url(#gRing3)"/>
<g filter="url(#b1)"><ellipse cx="127.6" cy="20.7" rx="4.8" ry="2.7" fill="#18b4f0"/><ellipse cx="127.6" cy="33.3" rx="4.8" ry="2.7" fill="#18b4f0"/><ellipse cx="127.6" cy="27" rx="5.9" ry="2.9" fill="#e8128e"/><ellipse cx="127.6" cy="27" rx="3.6" ry="1.3" fill="#3c0630"/></g>
</svg>
<path d="M601 314.8 h13.8" stroke="#1c1c1c" stroke-width="1.6"/>
<path d="M601 331.5 h13.8" stroke="#1414ff" stroke-width="1.6"/>
<path d="M601 350.9 h13.8" stroke="#ff1414" stroke-width="1.6"/>
<path d="M601 370.7 h13.8" stroke="#bfbf00" stroke-width="1.6"/>
<text x="622.9" y="318.6" font-size="12.25" text-anchor="start" >SNL</text>
<text x="622.9" y="336" font-size="12.25" text-anchor="start" >Scan</text>
<text x="622.9" y="355.8" font-size="12.75" font-style="italic">Y</text>
<text x="628.17" y="353.12" font-size="12.112499999999999" text-anchor="middle">ˆ</text>
<text x="630.9" y="359.62" font-size="7.91"><tspan font-style="italic">b</tspan>1</text>
<text x="634.07" y="357.57" font-size="6.72" text-anchor="middle">ˆ</text>
<text x="646.3" y="355.5" font-size="12.25" text-anchor="middle" >+</text>
<text x="654.3" y="355.8" font-size="12.75" font-style="italic">Y</text>
<text x="659.57" y="353.12" font-size="12.112499999999999" text-anchor="middle">ˆ</text>
<text x="662.3" y="359.62" font-size="7.91"><tspan font-style="italic">b</tspan>2</text>
<text x="665.47" y="357.57" font-size="6.72" text-anchor="middle">ˆ</text>
<text x="622.9" y="375.7" font-size="12.75" font-style="italic">Y</text>
<text x="628.17" y="373.02" font-size="12.112499999999999" text-anchor="middle">ˆ</text>
<text x="630.9" y="379.52" font-size="7.91"><tspan font-style="italic">b</tspan>1</text>
<text x="634.07" y="377.47" font-size="6.72" text-anchor="middle">ˆ</text>
<text x="646.3" y="375.4" font-size="12.25" text-anchor="middle" >–</text>
<text x="654.3" y="375.7" font-size="12.75" font-style="italic">Y</text>
<text x="659.57" y="373.02" font-size="12.112499999999999" text-anchor="middle">ˆ</text>
<text x="662.3" y="379.52" font-size="7.91"><tspan font-style="italic">b</tspan>2</text>
<text x="665.47" y="377.47" font-size="6.72" text-anchor="middle">ˆ</text>
<rect x="58.1" y="585.2" width="272.3" height="212.6" fill="#fff" stroke="#7f7f7f" stroke-width="1.1"/>
<path d="M68.15 797.8 v-3 M68.15 585.2 v3 M89.1 797.8 v-3 M89.1 585.2 v3 M110.05 797.8 v-3 M110.05 585.2 v3 M131 797.8 v-3 M131 585.2 v3 M151.95 797.8 v-3 M151.95 585.2 v3 M172.9 797.8 v-3 M172.9 585.2 v3 M193.85 797.8 v-3 M193.85 585.2 v3 M214.8 797.8 v-3 M214.8 585.2 v3 M235.75 797.8 v-3 M235.75 585.2 v3 M256.7 797.8 v-3 M256.7 585.2 v3 M277.65 797.8 v-3 M277.65 585.2 v3 M298.6 797.8 v-3 M298.6 585.2 v3 M319.55 797.8 v-3 M319.55 585.2 v3 " stroke="#7f7f7f" stroke-width="1" fill="none"/>
<path d="M58.1 755.28 h3 M330.4 755.28 h-3 M58.1 712.76 h3 M330.4 712.76 h-3 M58.1 670.24 h3 M330.4 670.24 h-3 M58.1 627.72 h3 M330.4 627.72 h-3 " stroke="#7f7f7f" stroke-width="1" fill="none"/>
<rect x="164.3" y="795.67" width="8.6" height="2.13" fill="#87cefa" stroke="#333" stroke-width="0.7"/>
<rect x="172.9" y="795.46" width="8.6" height="2.34" fill="#bfbf00" stroke="#333" stroke-width="0.7"/>
<rect x="185.25" y="796.52" width="8.6" height="1.28" fill="#87cefa" stroke="#333" stroke-width="0.7"/>
<rect x="193.85" y="795.67" width="8.6" height="2.13" fill="#bfbf00" stroke="#333" stroke-width="0.7"/>
<rect x="206.2" y="588.81" width="8.6" height="208.99" fill="#87cefa" stroke="#333" stroke-width="0.7"/>
<rect x="214.8" y="590.3" width="8.6" height="207.5" fill="#bfbf00" stroke="#333" stroke-width="0.7"/>
<rect x="227.15" y="796.95" width="8.6" height="0.85" fill="#87cefa" stroke="#333" stroke-width="0.7"/>
<rect x="235.75" y="797.16" width="8.6" height="0.64" fill="#bfbf00" stroke="#333" stroke-width="0.7"/>
<rect x="248.1" y="797.37" width="8.6" height="0.43" fill="#87cefa" stroke="#333" stroke-width="0.7"/>
<rect x="256.7" y="797.37" width="8.6" height="0.43" fill="#bfbf00" stroke="#333" stroke-width="0.7"/>
<path d="M58.1 797.8 H330.4" stroke="#7f7f7f" stroke-width="1.1"/>
<text x="51.3" y="801" font-size="14.7" text-anchor="end" >0</text>
<text x="51.3" y="760.38" font-size="14.7" text-anchor="end" >0.2</text>
<text x="51.3" y="717.86" font-size="14.7" text-anchor="end" >0.4</text>
<text x="51.3" y="675.34" font-size="14.7" text-anchor="end" >0.6</text>
<text x="51.3" y="632.82" font-size="14.7" text-anchor="end" >0.8</text>
<text x="51.3" y="590.3" font-size="14.7" text-anchor="end" >1</text>
<text x="68.35" y="814.8" font-size="14.7" text-anchor="middle" >–6</text>
<text x="89.3" y="814.8" font-size="14.7" text-anchor="middle" >–5</text>
<text x="110.25" y="814.8" font-size="14.7" text-anchor="middle" >–4</text>
<text x="131.2" y="814.8" font-size="14.7" text-anchor="middle" >–3</text>
<text x="152.15" y="814.8" font-size="14.7" text-anchor="middle" >–2</text>
<text x="173.1" y="814.8" font-size="14.7" text-anchor="middle" >–1</text>
<text x="194.15" y="814.8" font-size="14.7" text-anchor="middle" >0</text>
<text x="215.1" y="814.8" font-size="14.7" text-anchor="middle" >1</text>
<text x="236.05" y="814.8" font-size="14.7" text-anchor="middle" >2</text>
<text x="257" y="814.8" font-size="14.7" text-anchor="middle" >3</text>
<text x="277.95" y="814.8" font-size="14.7" text-anchor="middle" >4</text>
<text x="298.9" y="814.8" font-size="14.7" text-anchor="middle" >5</text>
<text x="319.85" y="814.8" font-size="14.7" text-anchor="middle" >6</text>
<text x="194.55" y="839" font-size="14.35" text-anchor="middle"><tspan font-style="italic">l</tspan> (a.u.)</text>
<text transform="translate(11.6 693.4) rotate(-90)" font-size="14.35" text-anchor="middle">Proportion (a.u.)</text>
<text x="-0.3" y="589.7" font-size="20.8" text-anchor="start" font-weight="bold" fill="#000" stroke="none">e</text>
<rect x="265.2" y="606.6" width="18" height="7.2" fill="#87cefa" stroke="#333" stroke-width="0.7"/>
<rect x="265.2" y="626.5" width="18" height="7.2" fill="#bfbf00" stroke="#333" stroke-width="0.7"/>
<text x="289.6" y="614.4" font-size="12.25" text-anchor="start" >Input</text>
<text x="289.6" y="634.3" font-size="12.25" text-anchor="start" >Output</text>
<svg x="480.5" y="662.6" width="85.4" height="85.8" viewBox="480.5 662.6 85.4 85.8" overflow="hidden">
<rect x="480.5" y="662.6" width="85.4" height="85.8" fill="#2b0a40"/>
<rect x="480.5" y="662.6" width="85.4" height="85.8" filter="url(#grain)" opacity="0.75"/>
<circle cx="522.4" cy="705.3" r="40" fill="url(#gVig)"/>
<circle cx="522.4" cy="705.3" r="17.6" fill="url(#gIn)"/>
<g filter="url(#b1)"><ellipse cx="527.5" cy="712.5" rx="4" ry="1.6" transform="rotate(-32 527.5 712.5)" fill="#ff9a10"/><ellipse cx="519.5" cy="697.3" rx="2.2" ry="1.2" fill="#ffa010"/><ellipse cx="528.5" cy="697.8" rx="2" ry="1.2" transform="rotate(35 528.5 697.8)" fill="#ffa010"/></g>
</svg>
<svg x="594.9" y="662.1" width="85.3" height="85.8" viewBox="594.9 662.1 85.3 85.8" overflow="hidden">
<rect x="594.9" y="662.1" width="85.3" height="85.8" fill="#2b0a40"/>
<rect x="594.9" y="662.1" width="85.3" height="85.8" filter="url(#grain)" opacity="0.75"/>
<circle cx="637" cy="704.3" r="33" fill="url(#gVig)"/>
<circle cx="637" cy="704.3" r="15.4" fill="url(#gOut)"/>
<g filter="url(#b2)"><ellipse cx="629.9" cy="703.6" rx="1.7" ry="4.6" fill="#ff7a10"/><ellipse cx="643.9" cy="704.0" rx="1.4" ry="4.0" fill="#ff9410"/></g>
</svg>
<text x="523.4" y="650" font-size="14.2" text-anchor="middle" >Input</text>
<text x="638.3" y="650" font-size="14.2" text-anchor="middle" >Output</text>
</svg>
<div class="phase" style="left:363px;top:662.2px;width:86.2px;height:85.8px"></div>
</div>
</body></html>
